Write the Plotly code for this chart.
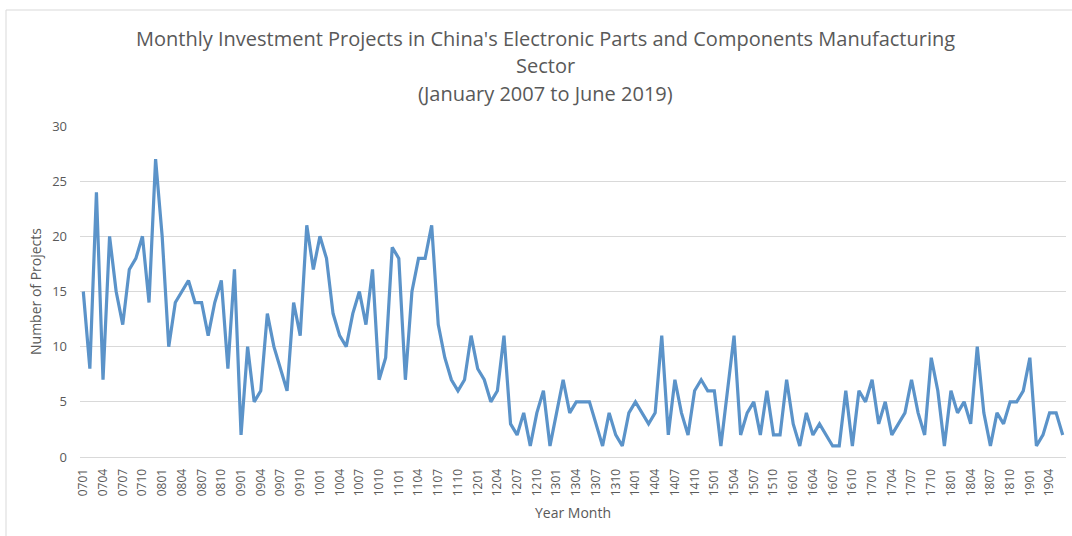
import plotly.graph_objects as go

# Categories: Year-Month codes, January 2007 to June 2019
months = [f"{y:02d}{m:02d}" for y in range(7, 20) for m in range(1, 13)][:150]

# Number of projects per month
projects = [
    15, 8, 24, 7, 20, 15, 12, 17, 18, 20, 14, 27,   # 2007
    20, 10, 14, 15, 16, 14, 14, 11, 14, 16, 8, 17,  # 2008
    2, 10, 5, 6, 13, 10, 8, 6, 14, 11, 21, 17,      # 2009
    20, 18, 13, 11, 10, 13, 15, 12, 17, 7, 9, 19,   # 2010
    18, 7, 15, 18, 18, 21, 12, 9, 7, 6, 7, 11,      # 2011
    8, 7, 5, 6, 11, 3, 2, 4, 1, 4, 6, 1,            # 2012
    4, 7, 4, 5, 5, 5, 3, 1, 4, 2, 1, 4,             # 2013
    5, 4, 3, 4, 11, 2, 7, 4, 2, 6, 7, 6,            # 2014
    6, 1, 6, 11, 2, 4, 5, 2, 6, 2, 2, 7,            # 2015
    3, 1, 4, 2, 3, 2, 1, 1, 6, 1, 6, 5,             # 2016
    7, 3, 5, 2, 3, 4, 7, 4, 2, 9, 6, 1,             # 2017
    6, 4, 5, 3, 10, 4, 1, 4, 3, 5, 5, 6,            # 2018
    9, 1, 2, 4, 4, 2,                               # 2019
]

tick_labels = months[::3]
y_ticks = [0, 5, 10, 15, 20, 25, 30]

title_lines = [
    "Monthly Investment Projects in China's Electronic Parts and Components Manufacturing",
    "Sector",
    "(January 2007 to June 2019)",
]

FONT = "Open Sans"
GRAY = "#595959"

fig = go.Figure()
fig.add_trace(go.Scatter(
    x=months, y=projects, mode="lines",
    line=dict(color="#5B93C9", width=3.2),
    hoverinfo="x+y", showlegend=False,
))

L, R, T, B = 80, 6, 126, 79
W, H = 1072, 536
pw, ph = W - L - R, H - T - B

for txt, yc in zip(title_lines, [38, 66, 93]):
    fig.add_annotation(
        text=txt, xref="paper", yref="paper",
        x=(545 - L) / pw, y=(H - B - yc) / ph,
        xanchor="center", yanchor="middle", showarrow=False,
        font=dict(family=FONT, size=20, color=GRAY),
    )

# chart border
fig.add_shape(
    type="rect", xref="paper", yref="paper",
    x0=(6 - L) / pw, x1=(1080 - L) / pw,
    y0=(H - B - 545) / ph, y1=(H - B - 10) / ph,
    line=dict(color="#D9D9D9", width=1), layer="below",
)

fig.update_layout(
    width=W, height=H,
    margin=dict(l=L, r=R, t=T, b=B, autoexpand=False),
    paper_bgcolor="white", plot_bgcolor="white",
    font=dict(family=FONT, color=GRAY),
    xaxis=dict(
        type="category", range=[-0.5, 149.5],
        tickmode="array", tickvals=tick_labels, ticktext=tick_labels,
        tickangle=-90, tickfont=dict(size=12, color=GRAY),
        showgrid=False, showline=True, linecolor="#D9D9D9", linewidth=1,
        ticks="", ticklabelstandoff=6,
        title=dict(text="Year Month", font=dict(size=14, color=GRAY), standoff=12),
        automargin=False,
    ),
    yaxis=dict(
        range=[0, 30], tickvals=y_ticks,
        tickfont=dict(size=13, color=GRAY),
        showgrid=True, gridcolor="#D9D9D9", gridwidth=1,
        zeroline=False, showline=False, ticks="", ticklabelstandoff=12,
        title=dict(text="Number of Projects", font=dict(size=14, color=GRAY), standoff=7),
        automargin=False,
    ),
)

fig.write_html(
    "out.html",
    config={"displayModeBar": False},
    post_script="document.body.style.margin='0';document.body.style.padding='0';",
)
